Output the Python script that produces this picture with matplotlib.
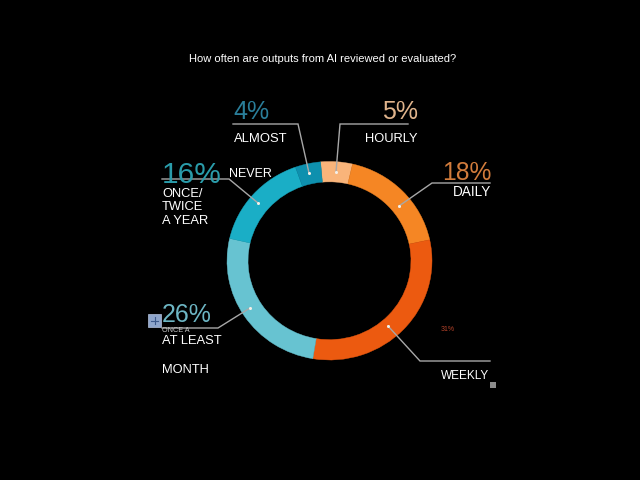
import matplotlib
matplotlib.use('Agg')
import matplotlib.pyplot as plt
from matplotlib.patches import Rectangle

plt.rcParams['font.family'] = ['Liberation Sans', 'DejaVu Sans']

title = 'How often are outputs from AI reviewed or evaluated?'
categories = ['HOURLY', 'DAILY', 'WEEKLY', 'AT LEAST ONCE A MONTH', 'ONCE/TWICE A YEAR', 'ALMOST NEVER']
values = [5, 18, 31, 26, 16, 4]
colors = ['#F9B47A', '#F58624', '#EC5A10', '#67C3D1', '#1AAEC6', '#0E90AE']

W, H = 640, 480


def Y(py):
    # picture coordinates run downwards, the axes upwards
    return H - py


fig = plt.figure(figsize=(6.4, 4.8), dpi=100, facecolor='black')

# the ring in the source is a little wider than tall, so it gets its own axes
ring = fig.add_axes([227 / W, Y(360) / H, 205 / W, 198.5 / H])
wedges, _ = ring.pie(values, colors=colors, radius=1, startangle=95, counterclock=False,
                     wedgeprops={'width': 0.205}, frame=True)
for wedge, col in zip(wedges, colors):
    wedge.set_edgecolor(col)
    wedge.set_linewidth(0.3)
ring.set_xlim(-1, 1)
ring.set_ylim(-1, 1)
ring.set_aspect('auto')
ring.axis('off')

ax = fig.add_axes([0, 0, 1, 1])
ax.set_xlim(0, W)
ax.set_ylim(0, H)
ax.axis('off')

ax.text(323, Y(59), title, color='white', fontsize=8, ha='center', va='center')

# leader lines from the labels to the ring
leaders = [
    ([408, 340, 336], [124, 124, 172]),
    ([490, 432, 399], [183, 183, 206]),
    ([490, 420, 388], [361, 361, 326]),
    ([162, 218, 250], [328, 328, 308]),
    ([162, 229, 258], [179, 179, 203]),
    ([233, 298, 309], [124, 124, 173]),
]
for xs, ys in leaders:
    ax.plot(xs, [Y(v) for v in ys], color='#a8a8a8', lw=1, solid_joinstyle='miter')
    ax.plot(xs[-1], Y(ys[-1]), 'o', color='#f4efe8', ms=2.2, mew=0)

# percentages
ax.text(418, Y(119), '5%', color='#E0B48C', fontsize=18, ha='right', va='baseline')
ax.text(491, Y(180), '18%', color='#D27C3C', fontsize=17.7, ha='right', va='baseline')
ax.text(441, Y(331), '31%', color='#B5432A', fontsize=5, ha='left', va='baseline')
ax.text(162, Y(322), '26%', color='#6DB6C4', fontsize=18, ha='left', va='baseline')
ax.text(162, Y(183), '16%', color='#2A9CAA', fontsize=21.5, ha='left', va='baseline')
ax.text(233, Y(119), '4%', color='#2A7E9A', fontsize=18, ha='left', va='baseline')

# category text, split the way the source split it
ax.text(418, Y(142), 'HOURLY', color='white', fontsize=9.3, ha='right', va='baseline')
ax.text(491, Y(196), 'DAILY', color='white', fontsize=9.8, ha='right', va='baseline')
ax.text(489, Y(379), 'WEEKLY', color='white', fontsize=8.5, ha='right', va='baseline')
ax.text(234, Y(142), 'ALMOST', color='white', fontsize=9.4, ha='left', va='baseline')
ax.text(229, Y(177), 'NEVER', color='white', fontsize=9, ha='left', va='baseline')
ax.text(162, Y(197), 'ONCE/', color='white', fontsize=9.3, ha='left', va='baseline')
ax.text(162, Y(210), 'TWICE', color='white', fontsize=9.3, ha='left', va='baseline')
ax.text(162, Y(224), 'A YEAR', color='white', fontsize=9.3, ha='left', va='baseline')
ax.text(162, Y(332), 'ONCE A', color='#c8c8c8', fontsize=5.2, ha='left', va='baseline')
ax.text(162, Y(344), 'AT LEAST', color='white', fontsize=9.3, ha='left', va='baseline')
ax.text(162, Y(373), 'MONTH', color='white', fontsize=9.3, ha='left', va='baseline')

# leftover placeholder squares in the source slide
ax.add_patch(Rectangle((148, Y(327)), 13, 13, facecolor='#8FA6CC', edgecolor='#b5c3dc', lw=0.5))
ax.plot([151, 158], [Y(320.5), Y(320.5)], color='#3d5a8c', lw=0.8)
ax.plot([154.5, 154.5], [Y(317), Y(324)], color='#3d5a8c', lw=0.8)
ax.add_patch(Rectangle((490, Y(388)), 6, 6, facecolor='#8c8c8c', edgecolor='none'))

fig.savefig('out.png', dpi=100, facecolor='black')
